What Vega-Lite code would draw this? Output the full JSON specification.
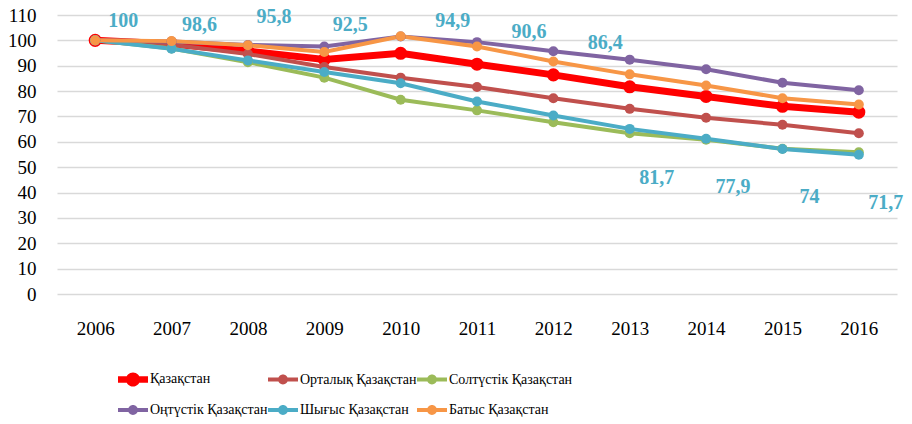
{
  "$schema": "https://vega.github.io/schema/vega-lite/v6.json",
  "width": 840,
  "height": 279,
  "autosize": {"type": "none"},
  "padding": {"left": 57, "top": 15, "right": 15, "bottom": 130},
  "background": "#ffffff",
  "config": {
    "view": {"stroke": null},
    "font": "'Liberation Serif', 'Times New Roman', serif",
    "locale": {"number": {"decimal": ",", "thousands": " ", "grouping": [3], "currency": ["", ""]}},
    "axis": {"labelFont": "'Liberation Serif', 'Times New Roman', serif", "labelFontSize": 19, "labelColor": "#000000", "ticks": false, "domain": false, "title": null},
    "legend": {"labelFont": "'Liberation Serif', 'Times New Roman', serif"},
    "text": {"font": "'Liberation Serif', 'Times New Roman', serif"}
  },
  "data": {
    "values": [
      {"year": "2006", "region": "Қазақстан", "value": 100},
      {"year": "2007", "region": "Қазақстан", "value": 98.6},
      {"year": "2008", "region": "Қазақстан", "value": 95.8},
      {"year": "2009", "region": "Қазақстан", "value": 92.5},
      {"year": "2010", "region": "Қазақстан", "value": 94.9},
      {"year": "2011", "region": "Қазақстан", "value": 90.6},
      {"year": "2012", "region": "Қазақстан", "value": 86.4},
      {"year": "2013", "region": "Қазақстан", "value": 81.7},
      {"year": "2014", "region": "Қазақстан", "value": 77.9},
      {"year": "2015", "region": "Қазақстан", "value": 74},
      {"year": "2016", "region": "Қазақстан", "value": 71.7},
      {"year": "2006", "region": "Орталық Қазақстан", "value": 100},
      {"year": "2007", "region": "Орталық Қазақстан", "value": 98.3},
      {"year": "2008", "region": "Орталық Қазақстан", "value": 94.6},
      {"year": "2009", "region": "Орталық Қазақстан", "value": 89.5},
      {"year": "2010", "region": "Орталық Қазақстан", "value": 85.3},
      {"year": "2011", "region": "Орталық Қазақстан", "value": 81.6},
      {"year": "2012", "region": "Орталық Қазақстан", "value": 77.2},
      {"year": "2013", "region": "Орталық Қазақстан", "value": 73.0},
      {"year": "2014", "region": "Орталық Қазақстан", "value": 69.5},
      {"year": "2015", "region": "Орталық Қазақстан", "value": 66.7},
      {"year": "2016", "region": "Орталық Қазақстан", "value": 63.4},
      {"year": "2006", "region": "Солтүстік Қазақстан", "value": 100},
      {"year": "2007", "region": "Солтүстік Қазақстан", "value": 96.8},
      {"year": "2008", "region": "Солтүстік Қазақстан", "value": 91.4},
      {"year": "2009", "region": "Солтүстік Қазақстан", "value": 85.3},
      {"year": "2010", "region": "Солтүстік Қазақстан", "value": 76.6},
      {"year": "2011", "region": "Солтүстік Қазақстан", "value": 72.4},
      {"year": "2012", "region": "Солтүстік Қазақстан", "value": 67.7},
      {"year": "2013", "region": "Солтүстік Қазақстан", "value": 63.4},
      {"year": "2014", "region": "Солтүстік Қазақстан", "value": 60.8},
      {"year": "2015", "region": "Солтүстік Қазақстан", "value": 57.3},
      {"year": "2016", "region": "Солтүстік Қазақстан", "value": 55.9},
      {"year": "2006", "region": "Оңтүстік Қазақстан", "value": 100},
      {"year": "2007", "region": "Оңтүстік Қазақстан", "value": 99.6},
      {"year": "2008", "region": "Оңтүстік Қазақстан", "value": 98.2},
      {"year": "2009", "region": "Оңтүстік Қазақстан", "value": 97.6},
      {"year": "2010", "region": "Оңтүстік Қазақстан", "value": 101.5},
      {"year": "2011", "region": "Оңтүстік Қазақстан", "value": 99.3},
      {"year": "2012", "region": "Оңтүстік Қазақстан", "value": 95.7},
      {"year": "2013", "region": "Оңтүстік Қазақстан", "value": 92.4},
      {"year": "2014", "region": "Оңтүстік Қазақстан", "value": 88.6},
      {"year": "2015", "region": "Оңтүстік Қазақстан", "value": 83.3},
      {"year": "2016", "region": "Оңтүстік Қазақстан", "value": 80.3},
      {"year": "2006", "region": "Шығыс Қазақстан", "value": 100},
      {"year": "2007", "region": "Шығыс Қазақстан", "value": 96.7},
      {"year": "2008", "region": "Шығыс Қазақстан", "value": 92.1},
      {"year": "2009", "region": "Шығыс Қазақстан", "value": 87.5},
      {"year": "2010", "region": "Шығыс Қазақстан", "value": 83.1},
      {"year": "2011", "region": "Шығыс Қазақстан", "value": 75.9},
      {"year": "2012", "region": "Шығыс Қазақстан", "value": 70.4},
      {"year": "2013", "region": "Шығыс Қазақстан", "value": 65.1},
      {"year": "2014", "region": "Шығыс Қазақстан", "value": 61.2},
      {"year": "2015", "region": "Шығыс Қазақстан", "value": 57.2},
      {"year": "2016", "region": "Шығыс Қазақстан", "value": 54.9},
      {"year": "2006", "region": "Батыс Қазақстан", "value": 100},
      {"year": "2007", "region": "Батыс Қазақстан", "value": 99.7},
      {"year": "2008", "region": "Батыс Қазақстан", "value": 98.1},
      {"year": "2009", "region": "Батыс Қазақстан", "value": 95.4},
      {"year": "2010", "region": "Батыс Қазақстан", "value": 101.6},
      {"year": "2011", "region": "Батыс Қазақстан", "value": 97.6},
      {"year": "2012", "region": "Батыс Қазақстан", "value": 91.7},
      {"year": "2013", "region": "Батыс Қазақстан", "value": 86.6},
      {"year": "2014", "region": "Батыс Қазақстан", "value": 82.2},
      {"year": "2015", "region": "Батыс Қазақстан", "value": 77.2},
      {"year": "2016", "region": "Батыс Қазақстан", "value": 74.7}
    ]
  },
  "encoding": {
    "x": {"field": "year", "type": "ordinal", "scale": {"type": "point", "padding": 0.5}, "axis": {"labelAngle": 0, "labelPadding": 25, "grid": false}},
    "y": {"field": "value", "type": "quantitative", "scale": {"domain": [0, 110], "nice": false}, "axis": {"values": [0, 10, 20, 30, 40, 50, 60, 70, 80, 90, 100, 110], "grid": true, "gridColor": "#D9D9D9", "gridWidth": 1.5, "labelPadding": 21}}
  },
  "layer": [
    {
      "transform": [{"filter": "datum.region === 'Қазақстан'"}],
      "mark": {"type": "line", "strokeWidth": 7},
      "encoding": {
        "color": {
          "field": "region", "type": "nominal",
          "scale": {
            "domain": ["Қазақстан", "Орталық Қазақстан", "Солтүстік Қазақстан", "Оңтүстік Қазақстан", "Шығыс Қазақстан", "Батыс Қазақстан"],
            "range": ["#FF0000", "#C0504D", "#9BBB59", "#8064A2", "#4BACC6", "#F79646"]
          },
          "legend": {
            "orient": "none", "legendX": 61, "legendY": 349, "direction": "horizontal", "columns": 3,
            "title": null, "symbolSize": 900, "labelOffset": 2, "columnPadding": 0, "rowPadding": 8, "padding": 0,
            "labelFontSize": 14, "labelColor": "#000000",
            "symbolType": "M-1,-0.13H1V0.13H-1Z M-0.33,0A0.33,0.33 0 1,1 0.33,0A0.33,0.33 0 1,1 -0.33,0Z",
            "symbolStrokeWidth": 0, "symbolOpacity": 1,
            "encode": {
              "symbols": {
                "update": {
                  "fill": {"scale": "color", "field": "value"},
                  "fillOpacity": {"value": 1},
                  "strokeWidth": {"value": 0},
                  "shape": {"signal": "datum.value === 'Қазақстан' ? 'M-1,-0.22H1V0.22H-1Z M-0.47,0A0.47,0.47 0 1,1 0.47,0A0.47,0.47 0 1,1 -0.47,0Z' : 'M-1,-0.13H1V0.13H-1Z M-0.33,0A0.33,0.33 0 1,1 0.33,0A0.33,0.33 0 1,1 -0.33,0Z'"}
                }
              }
            }
          }
        }
      }
    },
    {
      "transform": [{"filter": "datum.region === 'Қазақстан'"}],
      "mark": {"type": "point", "filled": true, "size": 170, "opacity": 1},
      "encoding": {"color": {"field": "region", "type": "nominal"}}
    },
    {
      "transform": [{"filter": "datum.region !== 'Қазақстан'"}],
      "mark": {"type": "line", "strokeWidth": 4},
      "encoding": {"color": {"field": "region", "type": "nominal"}}
    },
    {
      "transform": [{"filter": "datum.region !== 'Қазақстан'"}],
      "mark": {"type": "point", "filled": true, "size": 100, "opacity": 1},
      "encoding": {"color": {"field": "region", "type": "nominal"}}
    },
    {
      "transform": [{"filter": "datum.region === 'Қазақстан' && datum.year <= '2007'"}],
      "mark": {"type": "text", "fontSize": 20, "fontWeight": "bold", "color": "#4BACC6", "dx": 28, "dy": -19},
      "encoding": {"text": {"field": "value", "type": "quantitative", "format": ".1~f"}}
    },
    {
      "transform": [{"filter": "datum.region === 'Қазақстан' && datum.year >= '2008' && datum.year <= '2009'"}],
      "mark": {"type": "text", "fontSize": 20, "fontWeight": "bold", "color": "#4BACC6", "dx": 26, "dy": -34},
      "encoding": {"text": {"field": "value", "type": "quantitative", "format": ".1~f"}}
    },
    {
      "transform": [{"filter": "datum.region === 'Қазақстан' && datum.year >= '2010' && datum.year <= '2012'"}],
      "mark": {"type": "text", "fontSize": 20, "fontWeight": "bold", "color": "#4BACC6", "dx": 52, "dy": -32},
      "encoding": {"text": {"field": "value", "type": "quantitative", "format": ".1~f"}}
    },
    {
      "transform": [{"filter": "datum.region === 'Қазақстан' && datum.year >= '2013'"}],
      "mark": {"type": "text", "fontSize": 20, "fontWeight": "bold", "color": "#4BACC6", "dx": 27, "dy": 91},
      "encoding": {"text": {"field": "value", "type": "quantitative", "format": ".1~f"}}
    }
  ]
}
